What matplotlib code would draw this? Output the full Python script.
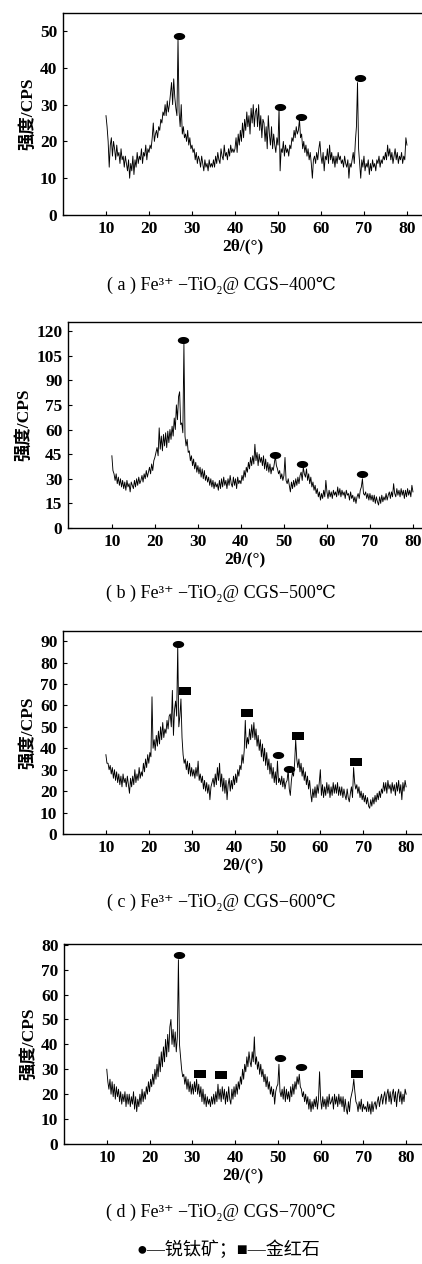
import numpy as np
import matplotlib
matplotlib.use("Agg")
import matplotlib.pyplot as plt
from matplotlib.path import Path

# ---------------- data ----------------
two_theta = np.round(np.arange(10.0, 80.001, 0.25), 2)

intensity_400 = [
    27, 24, 20, 13, 19, 21, 16, 20, 18, 15, 19, 16, 17, 14, 18, 15, 16, 13, 16, 14,
    12, 15, 10, 14, 12, 16, 11, 15, 13, 17, 14, 16, 15, 18, 14, 17, 16, 19, 15, 18,
    17, 19, 18, 21, 25, 20, 22, 23, 21, 24, 23, 26, 25, 28, 27, 30, 27, 31, 28, 30,
    33, 36, 30, 37, 32, 29, 27, 48, 28, 24, 30, 22, 24, 21, 22, 20, 23, 19, 21, 18,
    19, 17, 18, 15, 17, 14, 16, 15, 13, 16, 14, 12, 15, 13, 14, 12, 15, 13, 14, 13,
    15, 13, 16, 14, 17, 15, 14, 18, 16, 15, 19, 16, 17, 15, 18, 16, 19, 17, 18, 17,
    18, 21, 17, 22, 19, 23, 20, 25, 21, 26, 23, 28, 24, 27, 22, 29, 25, 30, 24, 28,
    29, 24, 30, 23, 27, 21, 26, 25, 20, 24, 18, 27, 22, 19, 24, 18, 22, 19, 17, 21,
    19, 29, 12, 18, 17, 20, 16, 19, 17, 18, 16, 19, 18, 21, 20, 23, 21, 24, 22, 23,
    26, 21, 22, 18, 20, 17, 19, 16, 18, 15, 17, 14, 10, 15, 16, 14, 17, 15, 18, 20,
    16, 14, 17, 12, 16, 15, 18, 14, 19, 15, 17, 14, 16, 13, 16, 14, 17, 15, 16, 14,
    15, 13, 16, 14, 13, 15, 10, 14, 13, 15, 17, 14, 20, 24, 36, 18, 14, 10, 15, 13,
    16, 12, 14, 13, 15, 11, 14, 12, 15, 13, 14, 12, 15, 14, 16, 13, 15, 14, 16, 15,
    17, 15, 19, 16, 18, 15, 17, 14, 16, 18, 15, 17, 14, 16, 15, 17, 14, 16, 15, 21,
    19]

intensity_500 = [
    44, 35, 33, 29, 33, 27, 31, 26, 30, 25, 29, 24, 28, 23, 29, 25, 27, 22, 28, 26,
    24, 29, 25, 30, 26, 31, 27, 29, 32, 28, 33, 30, 35, 31, 34, 37, 33, 39, 35, 41,
    43, 46, 49, 44, 61, 48, 56, 47, 57, 50, 58, 49, 59, 52, 60, 54, 62, 56, 67, 60,
    75, 66, 80, 83, 63, 64, 58, 112, 56, 50, 54, 46, 47, 41, 44, 38, 42, 36, 40, 34,
    38, 33, 37, 31, 36, 30, 35, 29, 32, 28, 31, 26, 30, 25, 29, 24, 28, 25, 27, 23,
    29, 24, 30, 25, 31, 26, 29, 24, 30, 26, 32, 27, 25, 31, 26, 30, 24, 31, 27, 29,
    27, 32, 29, 35, 31, 37, 34, 40, 36, 43, 38, 44, 39, 51, 41, 46, 38, 45, 40, 43,
    38, 44, 36, 42, 35, 40, 34, 39, 33, 37, 35, 39, 44, 38, 36, 33, 35, 30, 33, 29,
    32, 43, 29, 27, 30, 26, 22, 28, 24, 29, 25, 30, 26, 31, 27, 32, 34, 29, 37, 33,
    31, 36, 29, 33, 27, 31, 25, 28, 23, 26, 21, 24, 19, 22, 17, 21, 18, 23, 19, 29,
    22, 18, 23, 19, 22, 18, 23, 20, 22, 19, 25, 20, 24, 19, 23, 20, 22, 18, 23, 20,
    21, 17, 22, 18, 20, 16, 19, 15, 19, 21, 18, 23, 25, 30, 21, 20, 22, 18, 21, 17,
    21, 17, 20, 16, 20, 15, 19, 16, 14, 19, 15, 20, 16, 19, 17, 21, 17, 20, 22, 18,
    22, 19, 27, 21, 19, 24, 20, 23, 19, 24, 20, 23, 18, 23, 19, 24, 20, 23, 19, 26,
    22]

intensity_600 = [
    37, 33, 33, 30, 32, 28, 31, 26, 30, 25, 29, 24, 28, 23, 27, 22, 28, 24, 26, 22,
    27, 23, 19, 26, 22, 27, 23, 30, 24, 28, 25, 31, 26, 29, 27, 33, 29, 35, 31, 37,
    33, 38, 36, 64, 40, 44, 39, 46, 41, 48, 42, 50, 44, 52, 45, 49, 47, 53, 49, 55,
    56, 50, 67, 46, 58, 62, 55, 88, 50, 55, 63, 45, 37, 33, 35, 30, 34, 28, 33, 27,
    31, 27, 30, 26, 31, 27, 34, 25, 28, 24, 27, 21, 25, 20, 24, 19, 23, 16, 22, 24,
    26, 22, 28, 23, 31, 25, 33, 22, 28, 20, 26, 19, 25, 16, 23, 26, 20, 25, 21, 27,
    23, 28, 24, 30, 27, 32, 30, 37, 33, 39, 53, 40, 45, 42, 49, 44, 51, 45, 52, 44,
    49, 41, 46, 39, 44, 36, 42, 34, 40, 32, 38, 30, 35, 28, 33, 26, 31, 24, 29, 23,
    34, 24, 26, 23, 27, 22, 26, 21, 24, 25, 30, 21, 18, 25, 29, 27, 33, 44, 35, 31,
    35, 29, 33, 27, 31, 25, 29, 23, 27, 21, 25, 19, 15, 21, 17, 22, 17, 23, 19, 24,
    30, 18, 23, 17, 22, 18, 24, 19, 23, 17, 22, 18, 24, 19, 23, 19, 24, 18, 22, 18,
    22, 17, 21, 18, 16, 21, 17, 15, 19, 22, 17, 31, 24, 21, 23, 19, 22, 17, 20, 16,
    19, 15, 18, 14, 17, 13, 12, 16, 13, 17, 14, 18, 15, 19, 16, 20, 17, 21, 19, 24,
    20, 24, 19, 25, 21, 23, 19, 24, 20, 23, 18, 24, 20, 25, 19, 23, 16, 24, 20, 25,
    22]

intensity_700 = [
    30, 25, 22, 26, 20, 25, 19, 24, 18, 23, 19, 22, 17, 21, 16, 20, 17, 21, 15, 20,
    16, 20, 15, 19, 16, 21, 14, 19, 13, 18, 15, 20, 16, 22, 17, 21, 18, 23, 20, 25,
    21, 26, 23, 28, 24, 30, 26, 32, 27, 35, 29, 37, 31, 39, 33, 42, 35, 44, 37, 47,
    50, 40, 46, 39, 45, 37, 43, 74, 40, 35, 30, 27, 28, 24, 27, 22, 26, 21, 25, 20,
    24, 20, 25, 21, 26, 20, 24, 19, 23, 17, 22, 16, 20, 15, 19, 16, 18, 15, 19, 16,
    20, 16, 21, 17, 24, 18, 22, 17, 23, 18, 22, 16, 21, 17, 23, 18, 16, 22, 18, 23,
    19, 24, 20, 25, 22, 27, 24, 30, 26, 32, 29, 35, 31, 37, 33, 31, 37, 33, 43, 32,
    35, 30, 33, 28, 32, 27, 30, 25, 28, 23, 27, 22, 25, 20, 23, 19, 22, 16, 21, 23,
    24, 32, 21, 19, 22, 18, 23, 17, 22, 18, 21, 17, 23, 19, 24, 20, 25, 22, 27, 24,
    28, 23, 22, 19, 21, 17, 20, 16, 19, 14, 18, 13, 17, 14, 18, 15, 19, 14, 18, 29,
    18, 14, 19, 15, 18, 14, 19, 15, 20, 16, 17, 19, 14, 20, 16, 19, 15, 20, 16, 19,
    15, 19, 13, 18, 14, 12, 17, 13, 18, 20, 22, 26, 21, 17, 16, 13, 17, 14, 18, 13,
    16, 14, 15, 13, 17, 13, 16, 12, 17, 13, 16, 17, 14, 17, 19, 15, 18, 20, 16, 19,
    21, 16, 20, 22, 17, 21, 16, 20, 22, 17, 21, 15, 20, 22, 17, 21, 16, 20, 17, 22,
    20]

# peak markers (anatase = ellipse, rutile = square)
anatase_400_x = [27.0, 50.5, 55.3, 69.1]
anatase_400_y = [48.6, 29.3, 26.6, 37.2]
anatase_500_x = [26.5, 47.9, 54.2, 68.2]
anatase_500_y = [114.6, 44.5, 39.0, 33.0]
anatase_600_x = [26.8, 50.2, 52.7]
anatase_600_y = [88.7, 36.8, 30.3]
rutile_600_x = [28.4, 42.9, 54.9, 68.4]
rutile_600_y = [66.7, 56.4, 45.7, 33.6]
anatase_700_x = [27.0, 50.6, 55.3]
anatase_700_y = [75.9, 34.5, 30.9]
rutile_700_x = [31.8, 36.8, 68.6]
rutile_700_y = [28.1, 27.7, 28.1]

x_ticks = [10, 20, 30, 40, 50, 60, 70, 80]
y_ticks_400 = [0, 10, 20, 30, 40, 50]
y_ticks_500 = [0, 15, 30, 45, 60, 75, 90, 105, 120]
y_ticks_600 = [0, 10, 20, 30, 40, 50, 60, 70, 80, 90]
y_ticks_700 = [0, 10, 20, 30, 40, 50, 60, 70, 80]

captions = ["( a ) Fe³⁺ −TiO₂@ CGS−400℃",
            "( b ) Fe³⁺ −TiO₂@ CGS−500℃",
            "( c ) Fe³⁺ −TiO₂@ CGS−600℃",
            "( d ) Fe³⁺ −TiO₂@ CGS−700℃"]
legend_text = "●—锐钛矿；■—金红石"
ylabel_text = "强度/CPS"
xlabel_text = "2θ/(°)"

# ---------------- figure ----------------
W, H = 422, 1264
fig = plt.figure(figsize=(W / 100, H / 100), dpi=100)

SERIF = ['Liberation Serif', 'DejaVu Serif', 'Noto Sans CJK SC']
LBL = ['Liberation Serif', 'Noto Sans CJK SC', 'DejaVu Sans']
LEG = ['Liberation Serif', 'DejaVu Sans', 'Noto Sans CJK SC']

tt = np.linspace(0, 2 * np.pi, 40)
ell = Path(np.column_stack([np.cos(tt), 0.62 * np.sin(tt)]))
rect = Path([(-1, -0.62), (1, -0.62), (1, 0.62), (-1, 0.62), (-1, -0.62)],
            [Path.MOVETO, Path.LINETO, Path.LINETO, Path.LINETO, Path.CLOSEPOLY])

panels = [
    (63, 13, 215, (0, 83.5), (0, 54.9), y_ticks_400, intensity_400,
     [(anatase_400_x, anatase_400_y, ell)], 285),
    (68, 322, 528, (-0.2, 82.1), (0, 125.5), y_ticks_500, intensity_500,
     [(anatase_500_x, anatase_500_y, ell)], 593),
    (63, 631, 834, (0, 83.7), (0, 94.7), y_ticks_600, intensity_600,
     [(anatase_600_x, anatase_600_y, ell), (rutile_600_x, rutile_600_y, rect)], 902),
    (64, 944, 1144, (0, 83.7), (0, 80.3), y_ticks_700, intensity_700,
     [(anatase_700_x, anatase_700_y, ell), (rutile_700_x, rutile_700_y, rect)], 1212),
]

for i, (lp, tp, bp, xl, yl, yt, data, marks, cap_y) in enumerate(panels):
    ax = fig.add_axes([lp / W, 1 - bp / H, 1 - lp / W, (bp - tp) / H])
    ax.plot(two_theta, data, color='black', lw=0.65)
    for mx, my, mk in marks:
        ax.plot(mx, my, linestyle='none', marker=mk, markersize=8.2,
                color='black', markeredgewidth=0)
    ax.set_xlim(*xl)
    ax.set_ylim(*yl)
    ax.set_xticks(x_ticks)
    ax.set_yticks(yt)
    ax.spines['right'].set_visible(False)
    for s in ['left', 'bottom', 'top']:
        ax.spines[s].set_linewidth(1.0)
    ax.tick_params(axis='x', direction='in', length=3, width=0.8, pad=4)
    ax.tick_params(axis='y', direction='in', length=3, width=0.8, pad=4)
    for lab in ax.get_xticklabels() + ax.get_yticklabels():
        lab.set_fontfamily(SERIF)
        lab.set_fontweight('bold')
        lab.set_fontsize(12.5)
    ax.set_ylabel(ylabel_text, family=LBL, fontweight='bold', fontsize=12.5, labelpad=3)
    ax.set_xlabel(xlabel_text, family=SERIF, fontweight='bold', fontsize=12.5, labelpad=1)
    fig.text(221 / W, 1 - cap_y / H, captions[i], family=SERIF, fontsize=13,
             ha='center', va='center')

fig.text(228 / W, 1 - 1250 / H, legend_text, family=LEG, fontsize=13,
         ha='center', va='center')

fig.savefig('out.png', dpi=100)
